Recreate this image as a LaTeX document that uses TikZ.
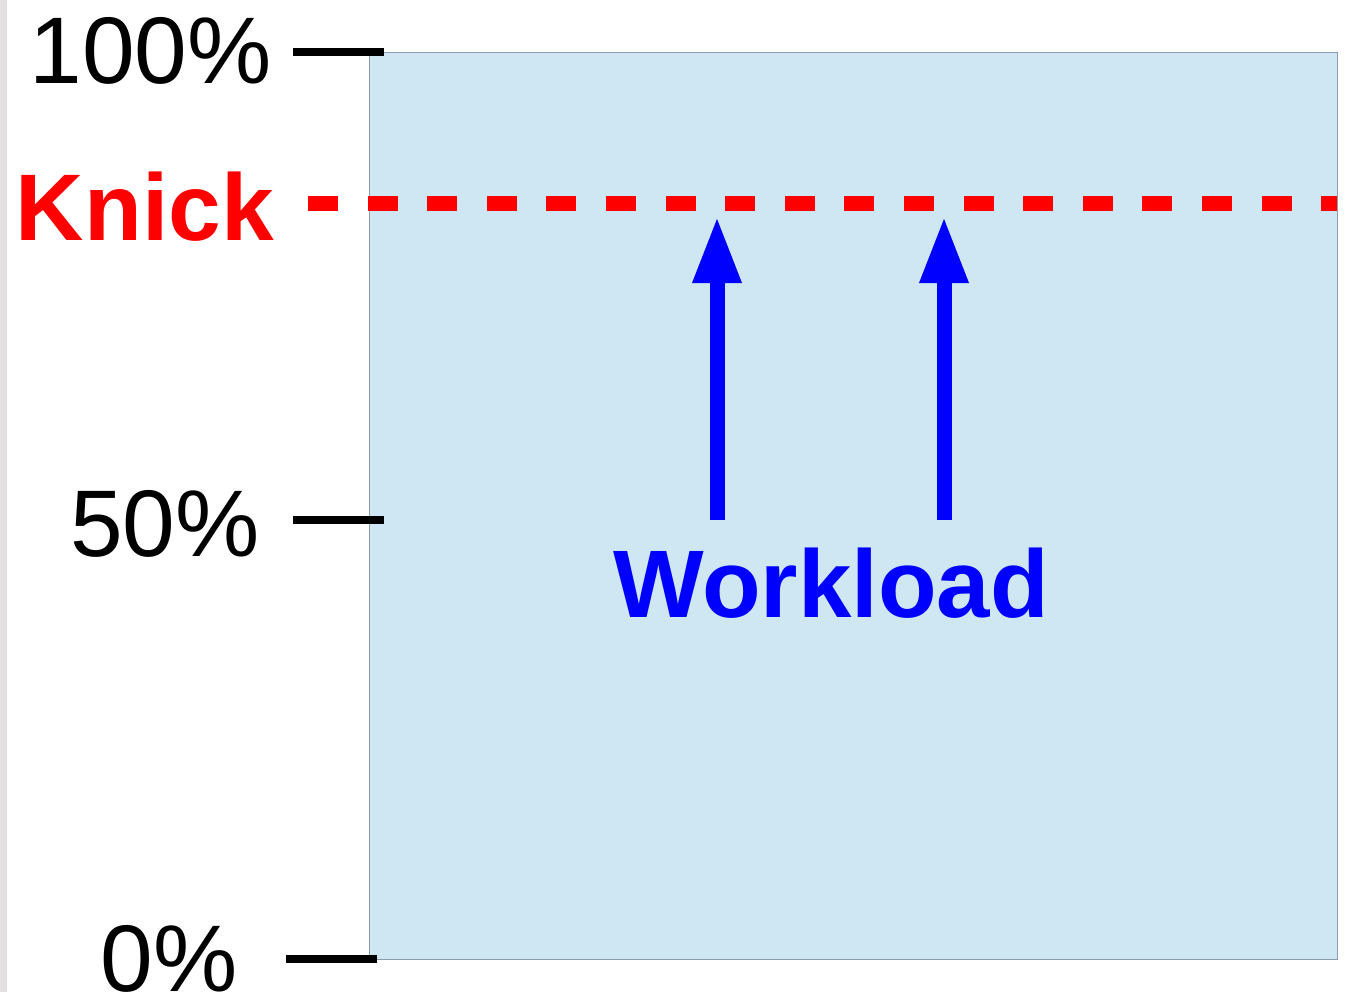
\documentclass[tikz,border=0pt]{standalone}
\usepackage{fontspec}
\setmainfont{Liberation Sans}
\usetikzlibrary{arrows.meta, positioning}
\usepackage{xcolor}
\definecolor{panelblue}{RGB}{207,230,243}
\definecolor{panelline}{RGB}{140,156,172}
\definecolor{stripgray}{RGB}{226,224,224}

\begin{document}
\begin{tikzpicture}[x=0.75pt, y=-0.75pt,
    tick/.style={line width=6pt},
    pctlabel/.style={anchor=base east, inner sep=0pt, font=\fontsize{71}{71}\selectfont},
    loadarrow/.style={blue, line width=11.25pt, -{Triangle[length=50.25pt, width=33.75pt]}}]
  \useasboundingbox (0,0) rectangle (1345,992);

  % left strip
  \fill[stripgray] (0,0) rectangle (7,992);

  % panel
  \filldraw[fill=panelblue, draw=panelline, line width=0.75pt] (369,52) rectangle (1337,959);

  % ticks with labels
  \foreach \y/\xa/\xb/\xl/\yl/\t in {51.5/293/384/272/83/100, 520/293/384/260/556/50, 958.5/286/377/238/991/0} {
      \draw[tick] (\xa,\y) -- (\xb,\y);
      \node[pctlabel] (pct\t) at (\xl,\yl) {\t\%};
    }

  % knick line
  \node[anchor=base east, inner sep=0pt, text=red, font=\fontsize{71}{71}\selectfont\bfseries] (knick) at (274,240) {Knick};
  \coordinate (knickL) at (308,203);
  \coordinate (knickR) at (1337,203);
  \draw[red, line width=11.25pt, dash pattern=on 22.5pt off 22.2pt] (knickL) -- (knickR);

  % workload arrows
  \foreach \x [count=\i] in {717,944} {
      \coordinate (base\i) at (\x,520);
      \coordinate (tip\i) at (\x,216);
      \draw[loadarrow] (base\i) -- (tip\i);
    }
  \node[anchor=base, inner sep=0pt, text=blue, font=\fontsize{72}{72}\selectfont\bfseries] (workload) at (831,617) {Workload};
\end{tikzpicture}
\end{document}
